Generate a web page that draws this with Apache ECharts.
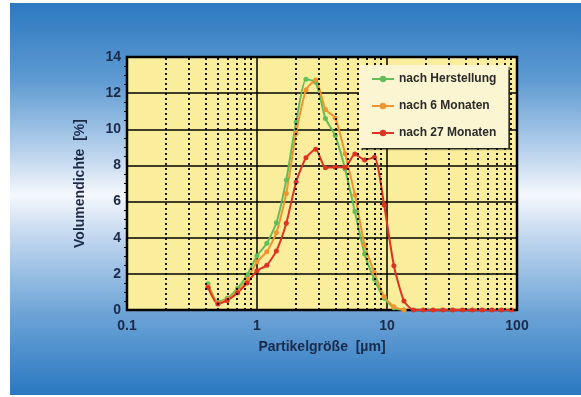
<!DOCTYPE html>
<html>
<head>
<meta charset="utf-8">
<script src="https://cdn.jsdelivr.net/npm/echarts@6/dist/echarts.min.js"></script>
<style>
  html, body { margin: 0; padding: 0; background: #fff; }
  #chart { position: absolute; left: 10px; top: 3px; width: 571px; height: 392px; }
</style>
</head>
<body>
<div id="chart"></div>
<script>
  // Partikelgröße [µm]
  const sizes = [0.42, 0.5, 0.59, 0.71, 0.84, 1.0, 1.19, 1.41, 1.68, 2.0, 2.38, 2.83, 3.36, 4.0, 4.76, 5.66,
    6.73, 8.0, 9.51, 11.3, 13.5, 16.0, 19.0, 22.6, 26.9, 32.0, 38.1, 45.3, 53.8, 64.0, 76.1, 90.5]

  // Volumendichte [%]
  const herstellung = [1.45, 0.45, 0.65, 1.2, 1.95, 3.0, 3.7, 4.83, 7.2, 10.4, 12.77, 12.6, 10.6, 9.65, 7.8, 5.45,
    3.1, 1.7, 0.65, 0.12, 0]
  const monate6 = [1.3, 0.4, 0.6, 1.05, 1.7, 2.67, 3.23, 4.28, 6.45, 9.78, 12.17, 12.73, 11.1, 10.62, 8.65, 6.36,
    3.6, 2.06, 0.74, 0.18, 0]
  const monate27 = [1.25, 0.33, 0.53, 0.96, 1.5, 2.17, 2.48, 3.27, 4.8, 7.08, 8.42, 8.89, 7.87, 7.9, 7.9, 8.63,
    8.3, 8.45, 5.81, 2.45, 0.5, 0, 0, 0, 0, 0, 0, 0, 0, 0, 0, 0]

  const seriesNames = ['nach Herstellung', 'nach 6 Monaten', 'nach 27 Monaten']
  const seriesColors = ['#62bd5a', '#f09430', '#de3322']

  // gepunktete Hilfslinien
  const minorLines = [0.2, 0.3, 0.4, 0.5, 0.6, 0.7, 0.8, 0.9, 2, 3, 4, 5, 6, 7, 8, 9,
    20, 30, 40, 50, 60, 70, 80, 90]

  const navy = '#1c2a48'
  const font = 'Liberation Sans'

  function pairs (values) {
    return values.map((v, i) => [sizes[i], v])
  }

  let chart = echarts.init(document.getElementById('chart'))

  let lineSeries = [herstellung, monate6, monate27].map((values, i) => {
    return {
      name: seriesNames[i],
      type: 'line',
      smooth: 0.2,
      symbol: 'circle',
      symbolSize: 5,
      z: 2,
      itemStyle: { color: seriesColors[i] },
      lineStyle: { color: seriesColors[i], width: 2 },
      data: pairs(values)
    }
  })

  let options = {
    animation: false,
    backgroundColor: {
      type: 'linear', x: 0, y: 0, x2: 0, y2: 1,
      colorStops: [
        { offset: 0, color: '#2c79c1' },
        { offset: 0.2, color: '#5f9bd2' },
        { offset: 0.38, color: '#b9d2ec' },
        { offset: 0.49, color: '#f5f8fc' },
        { offset: 0.6, color: '#c0d6ee' },
        { offset: 0.8, color: '#6aa2d6' },
        { offset: 1, color: '#2a78c1' }
      ]
    },
    legend: {
      orient: 'vertical',
      left: 349,
      top: 62,
      z: 10,
      padding: [8, 12, 9, 12],
      itemGap: 15,
      itemWidth: 22,
      itemHeight: 8,
      backgroundColor: '#fcf5d2',
      shadowColor: 'rgba(20,20,20,0.9)',
      shadowBlur: 1,
      shadowOffsetX: 2,
      shadowOffsetY: 2,
      textStyle: { color: '#2a2a2a', fontWeight: 'bold', fontSize: 12, fontFamily: font },
      data: seriesNames
    },
    grid: {
      left: 117,
      top: 54,
      right: 64,
      bottom: 85,
      show: true,
      backgroundColor: '#faee9c',
      borderColor: '#000',
      borderWidth: 2.5
    },
    xAxis: {
      type: 'log',
      logBase: 10,
      min: 0.1,
      max: 100,
      name: 'Partikelgröße  [µm]',
      nameLocation: 'middle',
      nameGap: 30,
      nameTextStyle: { color: navy, fontWeight: 'bold', fontSize: 14, fontFamily: font },
      axisLine: { show: false },
      axisTick: { show: false },
      axisLabel: {
        color: navy, fontWeight: 'bold', fontSize: 14, margin: 9, fontFamily: font,
        formatter: (v) => String(v)
      },
      splitLine: { show: true, lineStyle: { color: '#000', width: 1.5 } }
    },
    yAxis: {
      type: 'value',
      min: 0,
      max: 14,
      interval: 2,
      name: 'Volumendichte  [%]',
      nameLocation: 'middle',
      nameGap: 40,
      nameTextStyle: { color: navy, fontWeight: 'bold', fontSize: 14, fontFamily: font },
      axisLine: { show: false },
      axisTick: { show: false },
      minorTick: { show: true, splitNumber: 4, length: 3, lineStyle: { color: '#000' } },
      axisLabel: { color: navy, fontWeight: 'bold', fontSize: 14, margin: 6, fontFamily: font },
      splitLine: { show: true, lineStyle: { color: '#000', width: 1.5 } }
    },
    series: [
      {
        type: 'line',
        data: [],
        z: 1,
        silent: true,
        markLine: {
          silent: true,
          symbol: 'none',
          label: { show: false },
          lineStyle: { color: '#000', type: [2, 3], width: 1.8 },
          data: minorLines.map((v) => ({ xAxis: v }))
        }
      }
    ].concat(lineSeries)
  }

  chart.setOption(options)
</script>
</body>
</html>
